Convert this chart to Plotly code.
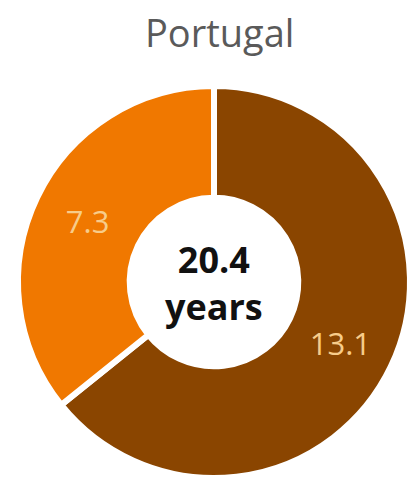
import plotly.graph_objects as go

# Two-part breakdown of the total, drawn clockwise from 12 o'clock
segments = ["Part A", "Part B"]
values = [13.1, 7.3]
colors = ["#8A4500", "#F07800"]
title_text = "Portugal"
total_text = "20.4"
unit_text = "years"

W, H = 416, 489
cx, cy, r = 214, 282, 196  # donut centre and radius in pixels

fig = go.Figure(
    go.Pie(
        labels=segments,
        values=values,
        hole=0.43,
        sort=False,
        direction="clockwise",
        rotation=0,
        marker=dict(colors=colors, line=dict(color="white", width=6)),
        textinfo="value",
        textposition="inside",
        insidetextorientation="horizontal",
        textfont=dict(family="Open Sans", size=31, color="#F7CC8A"),
        showlegend=False,
        hoverinfo="label+value",
        domain=dict(
            x=[(cx - r) / W, (cx + r) / W],
            y=[(H - cy - r) / H, (H - cy + r) / H],
        ),
    )
)

fig.add_annotation(
    text=title_text, x=219 / W, y=1 - 32 / H, xref="paper", yref="paper",
    showarrow=False, xanchor="center", yanchor="middle",
    font=dict(family="Open Sans", size=38, color="#5A5A5A"),
)
# Total in the hole, two lines in one text block
fig.add_annotation(
    text=f"<b>{total_text}<br>{unit_text}</b>", x=cx / W, y=1 - 283 / H,
    xref="paper", yref="paper",
    showarrow=False, xanchor="center", yanchor="middle",
    font=dict(family="Open Sans", size=36, color="#111111"),
)

fig.update_layout(
    width=W, height=H,
    margin=dict(l=0, r=0, t=0, b=0),
    paper_bgcolor="white", plot_bgcolor="white",
)

fig.write_html("out.html")
